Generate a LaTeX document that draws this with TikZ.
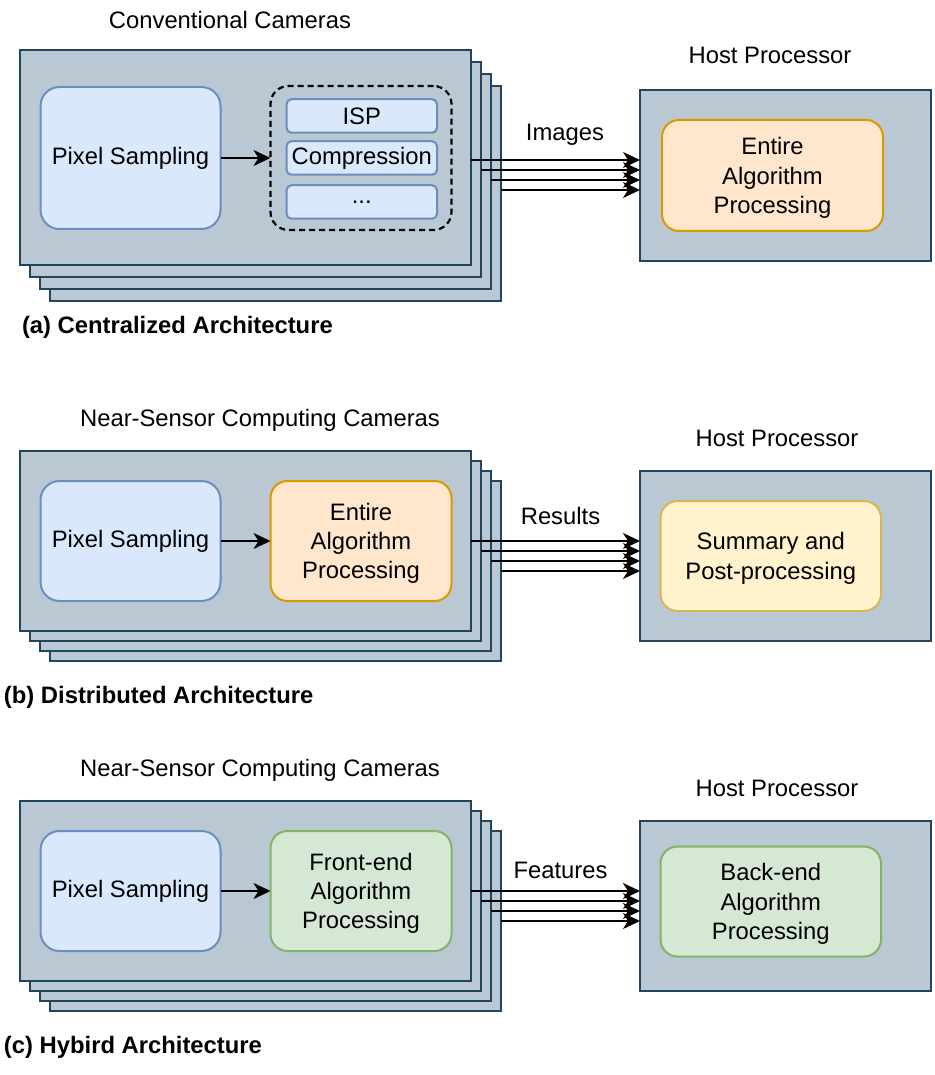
\documentclass[tikz,border=0pt]{standalone}
\usepackage{fontspec}
\setmainfont{Liberation Sans}
\usetikzlibrary{arrows.meta}
\definecolor{camfill}{HTML}{BAC8D3}
\definecolor{camdraw}{HTML}{23445D}
\definecolor{bluefill}{HTML}{DAE8FC}
\definecolor{bluedraw}{HTML}{6C8EBF}
\definecolor{orangefill}{HTML}{FFE6CC}
\definecolor{orangedraw}{HTML}{D79B00}
\definecolor{yellowfill}{HTML}{FFF2CC}
\definecolor{yellowdraw}{HTML}{D6B656}
\definecolor{greenfill}{HTML}{D5E8D4}
\definecolor{greendraw}{HTML}{82B366}
\begin{document}
\begin{tikzpicture}[x=1pt,y=-1pt,
  every node/.style={font=\fontsize{23.8}{29.3}\selectfont, inner sep=0pt, outer sep=0pt},
  cam/.style={draw=camdraw, fill=camfill, line width=2pt, rectangle},
  camA/.style={cam, minimum width=451, minimum height=215},
  camB/.style={cam, minimum width=451, minimum height=180},
  host/.style={cam, minimum width=291, minimum height=170},
  bluebox/.style={draw=bluedraw, fill=bluefill, line width=2pt, rounded corners=19pt, minimum width=180},
  multi/.style={line width=2pt, rounded corners=17pt, align=center, text depth=-3pt},
  orangebox/.style={multi, draw=orangedraw, fill=orangefill},
  yellowbox/.style={multi, draw=yellowdraw, fill=yellowfill},
  greenbox/.style={multi, draw=greendraw, fill=greenfill},
  smallbox/.style={draw=bluedraw, fill=bluefill, line width=2pt, rounded corners=5pt, minimum width=150.5, minimum height=33.5},
  dashbox/.style={draw=black, line width=2.2pt, dash pattern=on 6pt off 4pt, rounded corners=18pt},
  arr/.style={line width=2pt, -{Stealth[length=17pt,width=16pt,inset=5pt]}},
  lbl/.style={anchor=west, font=\fontsize{23.8}{29}\selectfont\bfseries}]
\useasboundingbox (0,0) rectangle (934,1075);

% ===== (a) =====
\node (ta) at (230,20) {Conventional Cameras};
\node[camA] (a4) at (275.5,193.5) {};
\node[camA] (a3) at (265.5,181.5) {};
\node[camA] (a2) at (255.5,169.5) {};
\node[camA] (a1) at (245.5,157.5) {};
\node[bluebox, minimum height=142] (apix) at (130.5,158) {Pixel Sampling};
\node[dashbox, minimum width=181, minimum height=144] (adash) at (361,158) {};
\node[smallbox] (aisp) at (361.75,116) {ISP};
\node[smallbox] (acomp) at (361.75,158) {Compression};
\node[smallbox] (adots) at (361.75,202) {...};
\draw[arr] (apix) -- (adash);
\node (hta) at (770,55) {Host Processor};
\node[host] (ha) at (785.5,175.5) {};
\node[orangebox, minimum width=221, minimum height=111] (hai) at (772.5,175.5) {Entire\\Algorithm\\Processing};
\draw[arr] ([yshift=-2.5pt]a1.east) -- ([yshift=-2.5pt]a1.east -| ha.west);
\draw[arr] ([yshift=-0.5pt]a2.east) -- ([yshift=-0.5pt]a2.east -| ha.west);
\draw[arr] ([yshift=1.5pt]a3.east) -- ([yshift=1.5pt]a3.east -| ha.west);
\draw[arr] ([yshift=3.5pt]a4.east) -- ([yshift=3.5pt]a4.east -| ha.west);
\node (ima) at (565,135) {Images};
\node[lbl] (la) at (22,327) {(a) Centralized Architecture};

% ===== (b) =====
\node (tb) at (260,420) {Near-Sensor Computing Cameras};
\node[camB] (b4) at (275.5,571) {};
\node[camB] (b3) at (265.5,561) {};
\node[camB] (b2) at (255.5,551) {};
\node[camB] (b1) at (245.5,541) {};
\node[bluebox, minimum height=120] (bpix) at (130.5,541) {Pixel Sampling};
\node[orangebox, minimum width=181, minimum height=120] (balg) at (361,541) {Entire\\Algorithm\\Processing};
\draw[arr] (bpix) -- (balg);
\node (htb) at (777,438) {Host Processor};
\node[host] (hb) at (785.5,556) {};
\node[yellowbox, minimum width=220.5, minimum height=110] (hbi) at (770.75,556) {Summary and\\Post-processing};
\draw[arr] (b1.east) -- (b1.east -| hb.west);
\draw[arr] (b2.east) -- (b2.east -| hb.west);
\draw[arr] (b3.east) -- (b3.east -| hb.west);
\draw[arr] (b4.east) -- (b4.east -| hb.west);
\node (res) at (560.5,516) {Results};
\node[lbl] (lb) at (4,697.5) {(b) Distributed Architecture};

% ===== (c) =====
\node (tc) at (260,770) {Near-Sensor Computing Cameras};
\node[camB] (c4) at (275.5,921) {};
\node[camB] (c3) at (265.5,911) {};
\node[camB] (c2) at (255.5,901) {};
\node[camB] (c1) at (245.5,891) {};
\node[bluebox, minimum height=120] (cpix) at (130.5,891) {Pixel Sampling};
\node[greenbox, minimum width=181, minimum height=120] (calg) at (361,891) {Front-end\\Algorithm\\Processing};
\draw[arr] (cpix) -- (calg);
\node (htc) at (777,788) {Host Processor};
\node[host] (hc) at (785.5,906) {};
\node[greenbox, minimum width=220.5, minimum height=110] (hci) at (770.75,901.5) {Back-end\\Algorithm\\Processing};
\draw[arr] (c1.east) -- (c1.east -| hc.west);
\draw[arr] (c2.east) -- (c2.east -| hc.west);
\draw[arr] (c3.east) -- (c3.east -| hc.west);
\draw[arr] (c4.east) -- (c4.east -| hc.west);
\node (fea) at (560.5,870) {Features};
\node[lbl] (lc) at (4,1047.5) {(c) Hybird Architecture};
\end{tikzpicture}
\end{document}
